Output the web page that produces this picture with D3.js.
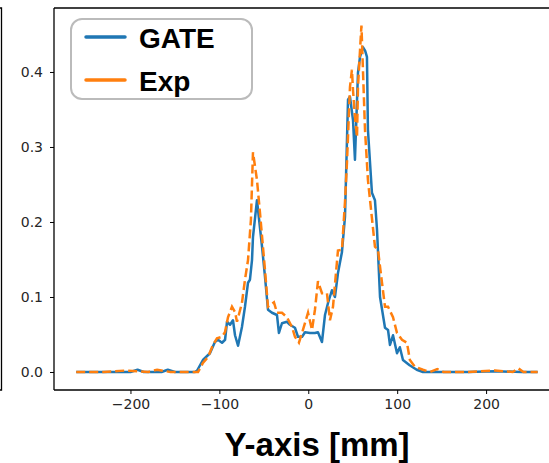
<!DOCTYPE html>
<html><head><meta charset="utf-8">
<script src="https://cdn.jsdelivr.net/npm/d3@7"></script>
<style>body{margin:0;background:#fff}svg{display:block}</style>
</head><body>
<script>
const gateX = [-261,-230,-200,-192,-185,-165,-158,-150,-135,-127.5,-125,-118.5,-110.6,-105,-101.6,-97,-93.6,-91.4,-88,-84.7,-82.4,-79,-74.6,-71.2,-67.8,-65.6,-63.3,-62.2,-57.7,-52,-48.7,-45.3,-40.8,-35.2,-33,-29.6,-24,-20.6,-15,-11.6,-7,-3.7,1.9,7.5,10.9,15.4,18.8,22.2,26.6,30,33.4,37.9,41.3,44.7,46.9,50.3,52.5,55.9,58.2,61.5,64,66,67.1,71.6,75,77.3,80.7,86.3,89.7,91.9,95.3,99.8,103,106.5,114,122,129,150,180,210,240,258];
const gateY = [0,0,0,0.003,0,0,0.003,0,0,0,0.002,0.016,0.025,0.040,0.043,0.039,0.043,0.067,0.063,0.069,0.049,0.035,0.060,0.087,0.119,0.123,0.149,0.180,0.229,0.167,0.127,0.083,0.079,0.076,0.052,0.065,0.067,0.063,0.059,0.047,0.047,0.053,0.052,0.052,0.053,0.040,0.076,0.092,0.109,0.100,0.132,0.160,0.207,0.363,0.367,0.336,0.283,0.399,0.420,0.433,0.428,0.420,0.323,0.239,0.229,0.190,0.100,0.059,0.056,0.036,0.049,0.025,0.033,0.016,0.009,0.003,0,0,0,0.001,0,0];
const expX = [-261,-230,-205,-180,-170,-155,-133,-124,-118.5,-112.8,-107.2,-102.7,-97,-93.7,-90.3,-85.8,-82.4,-80.2,-74.6,-71.2,-67.8,-64.5,-62.2,-57.7,-54.3,-48.7,-45.3,-38.6,-35.2,-29.6,-24,-18.3,-15,-10.5,-6,-0.3,4.2,7.5,10.9,15.4,21,24.4,27.8,33.4,37.9,41.3,43.5,46.9,49.1,50.3,52.5,54.8,55.9,58.2,59.8,61.5,63.8,67.1,71.6,75,78.4,82.9,86.3,89.7,95.3,99.8,105.4,111,114.3,120,129,137,145,152,180,210,230,236,242,258];
const expY = [0,0,0.002,0,0.003,0,0,0,0.012,0.020,0.036,0.045,0.047,0.053,0.073,0.087,0.080,0.067,0.092,0.123,0.149,0.203,0.293,0.256,0.212,0.136,0.087,0.093,0.079,0.079,0.073,0.060,0.047,0.039,0.056,0.079,0.056,0.083,0.121,0.105,0.105,0.069,0.087,0.162,0.163,0.227,0.279,0.380,0.403,0.376,0.340,0.313,0.380,0.429,0.462,0.403,0.323,0.256,0.205,0.167,0.163,0.119,0.087,0.087,0.073,0.052,0.043,0.039,0.016,0.007,0.003,0,0.004,0,0,0.002,0,0.005,0,0];
const xTicks = [-200,-100,0,100,200];
const yTicks = [0.0,0.1,0.2,0.3,0.4];
const seriesNames = ["GATE","Exp"];
const colors = ["#1f77b4","#ff7f0e"];

const W = 549, H = 463;
const svg = d3.select("body").append("svg").attr("width", W).attr("height", H);
const x = d3.scaleLinear().domain([-286, 300]).range([54, 575]);
const y = d3.scaleLinear().domain([-0.024, 0.4853]).range([390, 8]);

// left stub of neighbouring subplot
svg.append("path").attr("d","M-2,8H1.5V390H-2").attr("fill","none").attr("stroke","#000").attr("stroke-width",1.3);

const line = d3.line().x(d=>x(d[0])).y(d=>y(d[1]));
const g = svg.append("g");
g.append("path").datum(gateX.map((v,i)=>[v,gateY[i]])).attr("d",line)
  .attr("fill","none").attr("stroke",colors[0]).attr("stroke-width",2.5).attr("stroke-linejoin","round");
g.append("path").datum(expX.map((v,i)=>[v,expY[i]])).attr("d",line)
  .attr("fill","none").attr("stroke",colors[1]).attr("stroke-width",2.5).attr("stroke-dasharray","9,4");

// axes
const xa = svg.append("g").attr("transform","translate(0,390)")
  .call(d3.axisBottom(x).tickValues(xTicks).tickSize(4).tickPadding(5).tickFormat(d=>d<0?"\u2212"+Math.abs(d):d));
const ya = svg.append("g").attr("transform","translate(54,0)")
  .call(d3.axisLeft(y).tickValues(yTicks).tickSize(4).tickPadding(7).tickFormat(d3.format(".1f")));
[xa,ya].forEach(a=>{
  a.select(".domain").remove();
  a.selectAll("text").attr("font-family","DejaVu Sans").attr("font-size",14).attr("fill","#262626");
  a.selectAll("line").attr("stroke","#000").attr("stroke-width",1);
});
svg.append("line").attr("x1",54).attr("x2",54).attr("y1",8).attr("y2",390).attr("stroke","#000").attr("stroke-width",1.3);
svg.append("line").attr("x1",54).attr("x2",W).attr("y1",390).attr("y2",390).attr("stroke","#000").attr("stroke-width",1.3);
svg.append("line").attr("x1",54).attr("x2",W).attr("y1",8).attr("y2",8).attr("stroke","#000").attr("stroke-width",1.3);

svg.append("text").attr("x",317).attr("y",456).attr("text-anchor","middle")
  .attr("font-family","Liberation Sans, Arial").attr("font-weight","bold").attr("font-size",33).text("Y-axis [mm]");

// legend
const lg = svg.append("g");
lg.append("rect").attr("x",71).attr("y",19).attr("width",181).attr("height",80).attr("rx",11)
  .attr("fill","#fff").attr("fill-opacity",0.85).attr("stroke","#bbb").attr("stroke-width",2);
seriesNames.forEach((n,i)=>{
  const yy = 37 + i*43;
  lg.append("line").attr("x1",86).attr("x2",125).attr("y1",yy).attr("y2",yy)
    .attr("stroke",colors[i]).attr("stroke-width",3.5).attr("stroke-linecap","round");
  lg.append("text").attr("x",139).attr("y",yy+11).attr("font-family","Liberation Sans, Arial")
    .attr("font-weight","bold").attr("font-size",28).text(n);
});
</script>
</body></html>
